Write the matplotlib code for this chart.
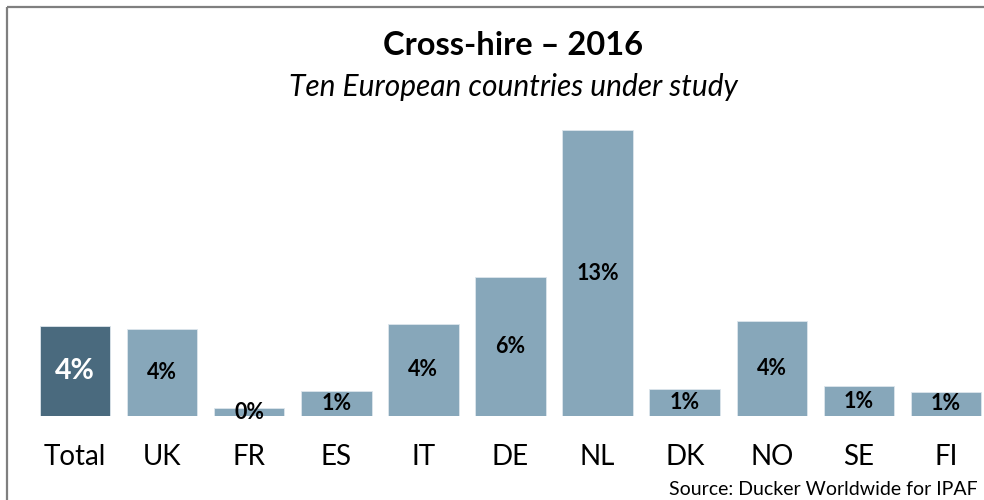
import matplotlib
matplotlib.use("Agg")
import matplotlib.pyplot as plt
from matplotlib.lines import Line2D

categories = ["Total", "UK", "FR", "ES", "IT", "DE", "NL", "DK", "NO", "SE", "FI"]
values = [4.1, 3.95, 0.35, 1.15, 4.2, 6.3, 13.0, 1.25, 4.3, 1.35, 1.1]
title = "Cross-hire \u2013 2016"
subtitle = "Ten European countries under study"
source = "Source: Ducker Worldwide for IPAF"

W, H = 984, 500
fig = plt.figure(figsize=(W / 100, H / 100), dpi=100)
plt.rcParams['font.family'] = ['Lato', 'DejaVu Sans']

# axes: baseline at y=416 px from top, 22 px per percent, bar spacing 87.1 px
base_px = 416
scale = 22.0
ax = fig.add_axes([0, (H - base_px) / H, 1, base_px / H])
ax.set_xlim((0 - 75) / 87.1, (W - 75) / 87.1)
ax.set_ylim(0, base_px / scale)

colors = ["#4a6a7e"] + ["#87a7ba"] * (len(categories) - 1)
x = list(range(len(categories)))
bars = ax.bar(x, values, width=0.81, color=colors, edgecolor="#dde6ec", linewidth=0.6)

for i, (b, v) in enumerate(zip(bars, values)):
    if i == 0:
        ax.text(b.get_x() + b.get_width() / 2, v / 2, f"{v:.0f}%", ha="center", va="center",
                fontsize=20.5, fontweight="bold", color="white")
    else:
        ax.text(b.get_x() + b.get_width() / 2, v / 2, f"{v:.0f}%", ha="center", va="center",
                fontsize=15.5, fontweight="bold", color="black")

ax.set_xticks(x)
ax.set_xticklabels(categories, fontsize=20)
ax.tick_params(axis="x", length=0, pad=20)
ax.set_yticks([])
for s in ax.spines.values():
    s.set_visible(False)
ax.patch.set_alpha(0)

fig.text(513 / W, 1 - 55 / H, title, ha="center", va="baseline", fontsize=23.5, fontweight="bold")
fig.text(513 / W, 1 - 96 / H, subtitle, ha="center", va="baseline", fontsize=21.5, style="italic")
fig.text(978 / W, 1 - 495 / H, source, ha="right", va="baseline", fontsize=14)

# frame (top and left only, as cropped)
fig.add_artist(Line2D([7 / W, 1], [1 - 7 / H, 1 - 7 / H], transform=fig.transFigure,
                      color="#7f7f7f", linewidth=1.6, solid_capstyle="butt"))
fig.add_artist(Line2D([7 / W, 7 / W], [1 - 7 / H, 0], transform=fig.transFigure,
                      color="#7f7f7f", linewidth=1.6, solid_capstyle="butt"))

fig.savefig("out.png", dpi=100)
